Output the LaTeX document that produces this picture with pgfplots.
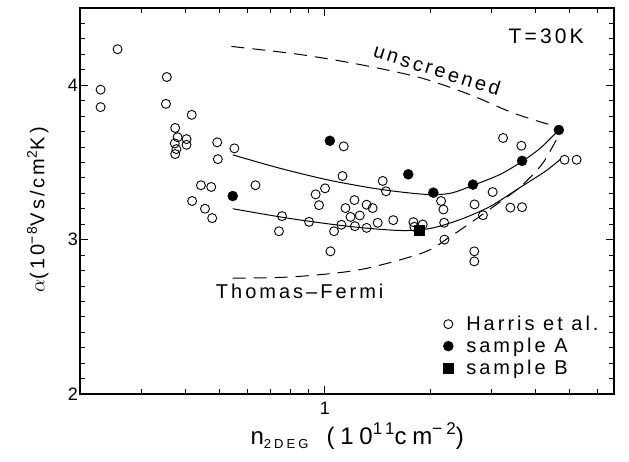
\documentclass[border=0pt]{standalone}
\usepackage{fontspec}
\setmainfont{Liberation Sans}[LetterSpace=15]
\usepackage{pgfplots}
\pgfplotsset{compat=1.18}
\newcommand\fs[1]{\fontsize{#1bp}{#1bp}\selectfont}
\begin{document}
\begin{tikzpicture}
\begin{axis}[
  scale only axis, width=534bp, height=386bp,
  xmode=log, xmin=0.2, xmax=6.7, ymin=2, ymax=4.5,
  xtick={1}, xticklabels={1},
  minor xtick={0.3,0.4,0.5,0.6,0.7,0.8,0.9,2,3,4,5,6},
  ytick={2,3,4},
  minor ytick={2.1,2.2,2.3,2.4,2.5,2.6,2.7,2.8,2.9,3.1,3.2,3.3,3.4,3.5,3.6,3.7,3.8,3.9,4.1,4.2,4.3,4.4},
  tick align=inside,
  major tick length=8bp, minor tick length=5bp,
  every tick/.style={black, line width=0.8bp},
  axis line style={line width=1.1bp},
  /pgf/number format/assume math mode=true,
  ticklabel style={font=\fs{18}},
  yticklabel style={inner xsep=2bp},
  xticklabel style={inner ysep=8bp},
  xlabel={\addfontfeature{LetterSpace=24}n{\fs{13}\raisebox{-4bp}{2DEG}}\hspace{18bp}(10{\fs{17}\raisebox{10bp}{11}}cm{\fs{17}\raisebox{10bp}{−2}})},
  ylabel={$\alpha$(10\textsuperscript{−8}Vs/cm\textsuperscript{2}K)},
  xlabel style={font=\fs{24}, at={(axis description cs:0.519,-0.132)}, anchor=base},
  ylabel style={font=\fs{20}, at={(axis description cs:-0.079,0.477)}, anchor=center},
  legend style={draw=none, fill=none, at={(axis description cs:0.680,0.124)}, anchor=west,
    font=\fs{20}, row sep=2bp, inner sep=0pt,
    /tikz/every odd column/.append style={column sep=11bp}},
  legend cell align=left,
  legend image code/.code={\draw[#1] plot coordinates {(0bp,0bp)};},
  clip=false,
]
% Harris et al.
\addplot[only marks, mark=o, mark size=4.5bp, line width=0.9bp, black] table {
0.229 3.971
0.229 3.858
0.256 4.233
0.354 4.053
0.352 3.879
0.417 3.808
0.374 3.723
0.380 3.663
0.403 3.651
0.373 3.623
0.403 3.614
0.377 3.586
0.374 3.554
0.493 3.630
0.495 3.521
0.443 3.352
0.474 3.341
0.418 3.250
0.455 3.200
0.477 3.139
0.552 3.591
1.133 3.604
1.124 3.412
0.634 3.352
1.002 3.332
0.942 3.293
0.963 3.223
1.216 3.256
1.146 3.204
1.317 3.226
0.755 3.152
0.902 3.115
0.740 3.054
1.185 3.147
1.259 3.156
1.116 3.096
1.219 3.087
1.063 3.054
1.317 3.076
1.038 2.924
1.464 3.380
1.496 3.313
1.370 3.204
1.416 3.109
1.569 3.126
1.791 3.113
1.803 3.083
3.230 3.658
2.149 3.250
2.182 3.195
2.678 3.228
2.830 3.158
3.389 3.207
3.661 3.210
3.016 3.308
1.905 3.098
2.193 3.109
2.197 3.000
2.673 2.924
2.673 2.859
3.644 3.608
4.840 3.517
5.240 3.517
};
\addlegendentry{Harris et al.}
% sample A
\addplot[only marks, mark=*, mark size=5bp, black] table {
0.546 3.282
1.034 3.640
1.732 3.423
2.043 3.304
2.650 3.356
3.661 3.510
4.662 3.710
};
\addlegendentry{sample A}
% sample B
\addplot[only marks, mark=square*, mark size=5bp, black] table {
1.859 3.059
};
\addlegendentry{sample B}
% upper solid curve
\addplot[smooth, no marks, black, line width=1bp, forget plot] table {
0.546 3.549
0.743 3.4625
1.0335 3.384
1.437 3.326
1.934 3.293
2.281 3.300
2.656 3.352
3.173 3.423
3.669 3.508
4.130 3.593
4.662 3.710
};
% lower solid curve
\addplot[smooth, no marks, black, line width=1bp, forget plot] table {
0.546 3.200
0.794 3.137
1.179 3.085
1.640 3.059
2.000 3.072
2.437 3.130
2.970 3.215
3.621 3.339
4.270 3.443
4.714 3.521
};
% Thomas-Fermi dashed
\addplot[smooth, no marks, black, line width=1bp, dash pattern=on 13bp off 8bp, forget plot] table {
0.546 2.750
0.811 2.759
1.259 2.805
1.909 2.915
2.281 3.019
2.691 3.130
3.243 3.261
3.549 3.326
3.868 3.404
4.215 3.502
4.612 3.658
4.662 3.710
};
% unscreened dashed
\addplot[smooth, no marks, black, line width=1bp, dash pattern=on 13bp off 8bp, forget plot] table {
0.5414 4.251
0.848 4.199
1.259 4.134
1.872 4.049
2.603 3.938
3.389 3.827
4.130 3.762
4.662 3.730
};
\node[font=\fs{20}, rotate=-17.5] at (axis cs:2.094,4.101) {unscreened};
\node[font=\fs{20}, anchor=base] at (axis cs:0.848,2.616) {Thomas--Fermi};
\node[font=\fs{21}] at (axis description cs:0.873,0.927) {T=30K};
\end{axis}
\pgfresetboundingbox
\path[use as bounding box] (current axis.south west) ++(-80bp,-68bp) rectangle ++(629bp,462bp);
\end{tikzpicture}
\end{document}
